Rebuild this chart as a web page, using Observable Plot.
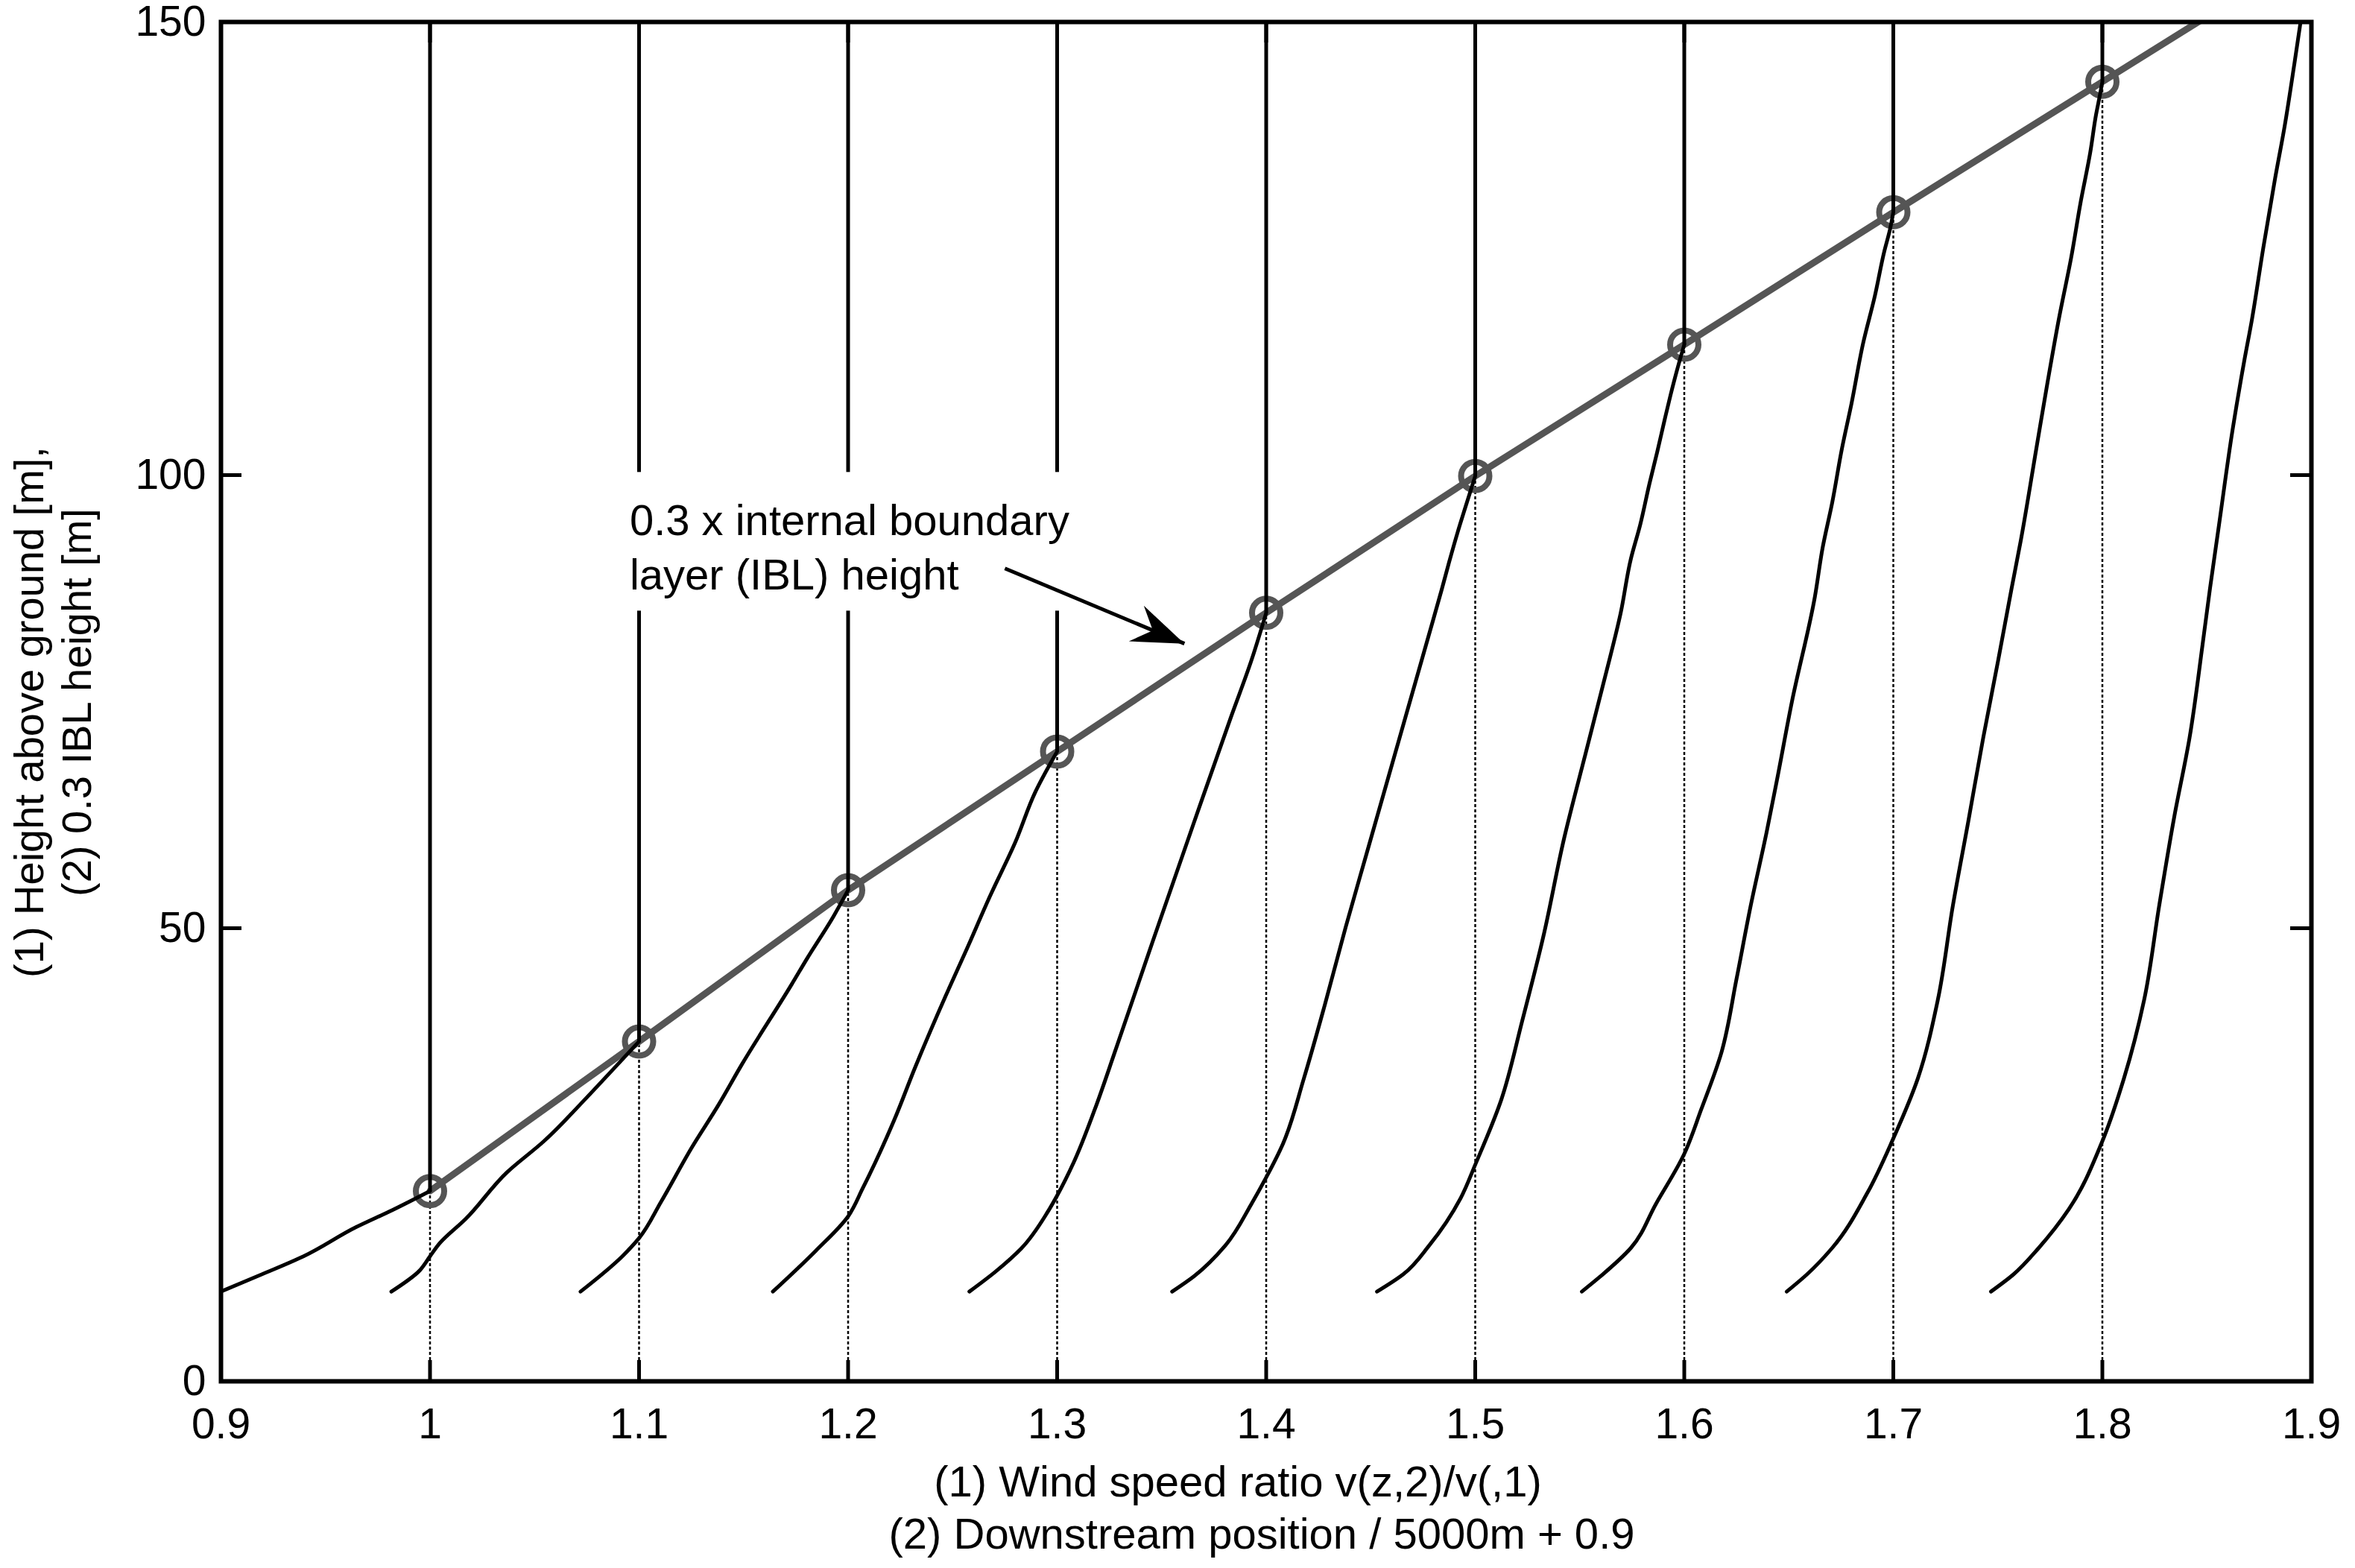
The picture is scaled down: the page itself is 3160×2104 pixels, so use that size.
<!DOCTYPE html>
<html><head><meta charset="utf-8">
<script src="https://cdn.jsdelivr.net/npm/d3@7"></script>
<script src="https://cdn.jsdelivr.net/npm/@observablehq/plot@0.6"></script>
<style>
html,body{margin:0;padding:0;background:#fff;overflow:hidden;}
#chart{width:3160px;height:2104px;}
</style>
</head><body><div id="chart"></div>
<script>
// ---- data ----
const xTicks = [0.9, 1.0, 1.1, 1.2, 1.3, 1.4, 1.5, 1.6, 1.7, 1.8, 1.9];
const yTicks = [0, 50, 100, 150];

// positions of the profiles (x grid) and 0.3 x IBL height at each
const stationRatio = [1.0, 1.1, 1.2, 1.3, 1.4, 1.5, 1.6, 1.7, 1.8];
const iblHeight = [21.0, 37.5, 54.2, 69.5, 84.8, 99.9, 114.4, 129.0, 143.4];
const iblLineRatio = [1.0, 1.1, 1.2, 1.3, 1.4, 1.5, 1.6, 1.7, 1.8, 1.9];
const iblLineHeight = [21.0, 37.5, 54.2, 69.5, 84.8, 99.9, 114.4, 129.0, 143.4, 157.8];

// wind speed ratio profiles [ratio + offset, height]
const profile1 = [[0.9,9.9],[0.9195,11.8],[0.9395,13.8],[0.9645,17.0],[0.982,18.9],[1.0,21.0]];
const profile2 = [[0.9815,9.9],[0.9945,12.1],[1.0,13.8],[1.0045,15.2],[1.017,17.9],[1.037,23.1],[1.0545,26.5],[1.0745,31.2],[1.0895,34.9],[1.1,37.5]];
const profile3 = [[1.072,9.9],[1.092,13.8],[1.1,15.8],[1.1105,19.8],[1.1255,25.9],[1.138,30.5],[1.149,34.9],[1.173,43.8],[1.1805,46.7],[1.193,51.3],[1.2,54.2]];
const profile4 = [[1.164,9.9],[1.1845,14.4],[1.2,18.2],[1.207,21.3],[1.222,28.8],[1.232,34.6],[1.247,42.7],[1.256,47.3],[1.268,53.6],[1.28,59.5],[1.2895,65.0],[1.3,69.5]];
const profile5 = [[1.258,9.9],[1.2705,12.1],[1.283,14.7],[1.2955,18.7],[1.3,20.5],[1.308,24.2],[1.318,30.0],[1.328,36.6],[1.3455,48.4],[1.3655,61.7],[1.383,73.2],[1.393,79.6],[1.4,84.8]];
const profile6 = [[1.355,9.9],[1.3655,11.6],[1.3805,15.0],[1.393,19.6],[1.4,22.5],[1.408,26.2],[1.418,33.4],[1.428,41.5],[1.438,50.1],[1.448,58.2],[1.458,66.3],[1.468,74.4],[1.478,82.5],[1.484,87.4],[1.4874,90.3],[1.4916,93.7],[1.4955,96.6],[1.5,99.9]];
const profile7 = [[1.453,9.9],[1.4655,11.8],[1.478,15.0],[1.493,20.2],[1.5,23.9],[1.5125,31.1],[1.5225,39.8],[1.5325,49.0],[1.5425,59.9],[1.5527,69.2],[1.5623,77.9],[1.5696,84.8],[1.5744,90.7],[1.5789,94.5],[1.5834,99.1],[1.587,102.5],[1.5907,106.2],[1.5934,108.8],[1.5962,111.3],[1.6,114.4]];
const profile8 = [[1.551,9.9],[1.56,11.6],[1.5744,14.7],[1.5865,19.6],[1.6,25.1],[1.6081,30.0],[1.6178,36.3],[1.625,44.4],[1.6318,52.5],[1.6394,60.6],[1.6443,66.3],[1.6515,75.0],[1.6625,86.6],[1.6662,92.0],[1.6708,97.0],[1.6754,102.9],[1.68,107.9],[1.6856,114.6],[1.6911,119.7],[1.6957,124.7],[1.6985,127.2],[1.7,129.0]];
const profile9 = [[1.649,9.9],[1.6587,11.8],[1.6707,14.7],[1.6876,20.8],[1.7,26.8],[1.7117,33.4],[1.7213,42.1],[1.7285,52.5],[1.7358,61.7],[1.743,71.0],[1.7502,79.6],[1.7565,87.4],[1.761,92.8],[1.7684,102.9],[1.7739,110.4],[1.7795,117.6],[1.785,123.9],[1.7896,130.1],[1.7942,135.6],[1.797,139.8],[1.7988,141.9],[1.8,143.4]];
const profile10 = [[1.7467,9.9],[1.7575,11.8],[1.7695,14.7],[1.784,19.0],[1.8,26.5],[1.8103,33.4],[1.82,42.1],[1.8272,52.5],[1.8344,62.3],[1.8417,71.0],[1.848,81.4],[1.8515,87.5],[1.8558,94.5],[1.8623,105.0],[1.8678,112.5],[1.8715,117.1],[1.877,125.1],[1.8826,132.7],[1.8872,138.5],[1.8918,145.3],[1.8945,149.5],[1.896,152.0]];

// annotation
const noteLines = ["0.3 x internal boundary", "layer (IBL) height"];
const noteAnchor = [[1.0955, 93.4], [1.0955, 87.4]];
const noteBox = [1.085, 1.33, 85.0, 100.3];
const arrowFrom = [1.275, 89.7];
const arrowTo = [1.3609, 81.4];

const xTitle = ["(1) Wind speed ratio v(z,2)/v(,1)", "(2) Downstream position / 5000m + 0.9"];
const yTitle = ["(1) Height above ground [m],", "(2) 0.3 IBL height [m]"];

// ---- build tables ----
const profiles = [profile1, profile2, profile3, profile4, profile5, profile6, profile7, profile8, profile9, profile10];
const profileRows = profiles.flatMap((p, i) => p.map(([r, z]) => ({id: i, r, z})));
const stations = stationRatio.map((r, i) => ({r, h: iblHeight[i]}));
const iblLine = iblLineRatio.map((r, i) => ({r, h: iblLineHeight[i]}));
const notes = noteLines.map((t, i) => ({t, x: noteAnchor[i][0], y: noteAnchor[i][1]}));

const W = 3160, H = 2104;
const mL = 296, mR = 59, mT = 29, mB = 251;
const pw = W - mL - mR, ph = H - mT - mB;
const tickLen = 28;
const font = "'Liberation Sans', Arial, Helvetica, sans-serif";

// arrow head angle in screen space
const dxPx = (arrowTo[0] - arrowFrom[0]) / 1.0 * pw;
const dyPx = (arrowFrom[1] - arrowTo[1]) / 150 * ph;
const arrowAngle = Math.atan2(dyPx, dxPx) * 180 / Math.PI;
const arrowHead = {
  draw(ctx) {
    ctx.moveTo(0, 0);
    ctx.lineTo(-70, -26);
    ctx.lineTo(-46, 0);
    ctx.lineTo(-70, 26);
    ctx.closePath();
  }
};

const chart = Plot.plot({
  width: W, height: H,
  marginLeft: mL, marginRight: mR, marginTop: mT, marginBottom: mB,
  style: {fontFamily: font, background: "#fff", color: "#000", overflow: "visible"},
  x: {domain: [0.9, 1.9], axis: null},
  y: {domain: [0, 150], axis: null},
  marks: [
    // dotted x grid
    Plot.ruleX(stationRatio, {x: d => d, y1: 0, y2: 150, stroke: "#000", strokeWidth: 2.5, strokeDasharray: "4,3"}),
    // IBL line & markers
    Plot.line(iblLine, {x: "r", y: "h", stroke: "#555", strokeWidth: 9, clip: true}),
    Plot.dot(stations, {x: "r", y: "h", r: 19, stroke: "#555", strokeWidth: 8, fill: "none"}),
    // profile above IBL (ratio = 1)
    Plot.ruleX(stations, {x: "r", y1: "h", y2: 150, stroke: "#000", strokeWidth: 5}),
    // profiles inside IBL
    Plot.line(profileRows, {x: "r", y: "z", z: "id", stroke: "#000", strokeWidth: 5, clip: true, curve: "monotone-y"}),
    // annotation
    Plot.rect([noteBox], {x1: d => d[0], x2: d => d[1], y1: d => d[2], y2: d => d[3], fill: "#fff"}),
    Plot.text(notes, {x: "x", y: "y", text: "t", textAnchor: "start", lineAnchor: "bottom", fontSize: 58, fill: "#000"}),
    Plot.link([[arrowFrom, arrowTo]], {x1: d => d[0][0], y1: d => d[0][1], x2: d => d[1][0], y2: d => d[1][1], stroke: "#000", strokeWidth: 5}),
    Plot.dot([arrowTo], {x: d => d[0], y: d => d[1], r: 10, symbol: arrowHead, rotate: arrowAngle, fill: "#000", stroke: "none"}),
    // inward ticks
    Plot.tickX(xTicks, {x: d => d, insetTop: ph - tickLen, stroke: "#000", strokeWidth: 5}),
    Plot.tickX(xTicks, {x: d => d, insetBottom: ph - tickLen, stroke: "#000", strokeWidth: 5}),
    Plot.tickY(yTicks, {y: d => d, insetRight: pw - tickLen, stroke: "#000", strokeWidth: 5}),
    Plot.tickY(yTicks, {y: d => d, insetLeft: pw - tickLen, stroke: "#000", strokeWidth: 5}),
    Plot.frame({stroke: "#000", strokeWidth: 6}),
    // tick labels
    Plot.axisX({anchor: "bottom", ticks: xTicks, tickSize: 0, tickPadding: 36, fontSize: 57, label: null, tickFormat: d => String(d)}),
    Plot.axisY({anchor: "left", ticks: yTicks, tickSize: 0, tickPadding: 20, fontSize: 57, label: null, tickFormat: d => String(d)}),
    // axis titles
    Plot.text([xTitle[0]], {frameAnchor: "bottom", text: d => d, textAnchor: "middle", dx: -38, dy: 154, lineAnchor: "bottom", fontSize: 58, fill: "#000"}),
    Plot.text([xTitle[1]], {frameAnchor: "bottom", text: d => d, textAnchor: "middle", dx: -6, dy: 224, lineAnchor: "bottom", fontSize: 58, fill: "#000"}),
    Plot.text([yTitle[0]], {frameAnchor: "left", text: d => d, textAnchor: "middle", rotate: -90, dx: 57 - mL, dy: 14, lineAnchor: "bottom", fontSize: 56, fill: "#000"}),
    Plot.text([yTitle[1]], {frameAnchor: "left", text: d => d, textAnchor: "middle", rotate: -90, dx: 121 - mL, dy: 1, lineAnchor: "bottom", fontSize: 56, fill: "#000"})
  ]
});
document.getElementById("chart").appendChild(chart);
</script>
</body></html>
